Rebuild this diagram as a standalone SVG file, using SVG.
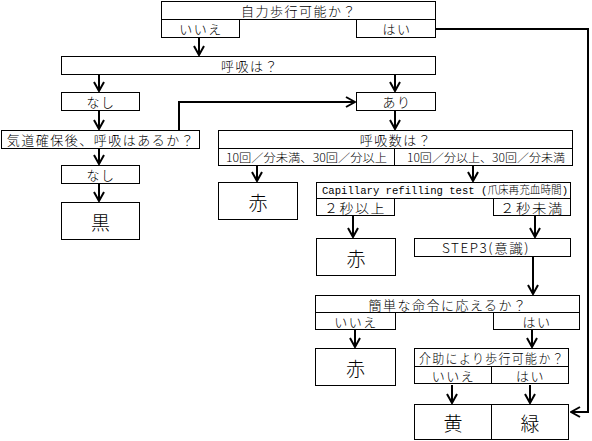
<svg xmlns="http://www.w3.org/2000/svg" width="592" height="441" viewBox="0 0 592 441">
<style>
.b{fill:#fff;stroke:#000;stroke-width:1}
.t{font-family:"Noto Sans CJK JP","Noto Sans CJK SC",sans-serif;font-size:13px;font-weight:300;letter-spacing:1.5px;text-anchor:middle;dominant-baseline:central;fill:#000}
.s{font-size:11.5px;letter-spacing:0}
.m{font-family:"Liberation Mono","Noto Sans CJK JP",monospace;font-size:11px;font-weight:300;dominant-baseline:central;fill:#000}
.L{font-size:19px;letter-spacing:0}
.c{fill:none;stroke:#000;stroke-width:2}
</style>
<defs>
<marker id="ah" markerUnits="userSpaceOnUse" viewBox="-11 -7 12 14" markerWidth="12" markerHeight="14" refX="0" refY="0" orient="auto">
<path d="M-9,-5 L0,0 L-9,5" fill="none" stroke="#000" stroke-width="2"/>
</marker>
</defs>
<rect width="592" height="441" fill="#fff"/>
<g id="connectors">
<path class="c" d="M199 38V55" marker-end="url(#ah)"/>
<path class="c" d="M99 75V91" marker-end="url(#ah)"/>
<path class="c" d="M395 75V91" marker-end="url(#ah)"/>
<path class="c" d="M99 111V129" marker-end="url(#ah)"/>
<path class="c" d="M179 130V102H355" marker-end="url(#ah)"/>
<path class="c" d="M395 111V129" marker-end="url(#ah)"/>
<path class="c" d="M99 149V164" marker-end="url(#ah)"/>
<path class="c" d="M99 184V201" marker-end="url(#ah)"/>
<path class="c" d="M257 166V181" marker-end="url(#ah)"/>
<path class="c" d="M473 166V181" marker-end="url(#ah)"/>
<path class="c" d="M353 216V237" marker-end="url(#ah)"/>
<path class="c" d="M535 216V237" marker-end="url(#ah)"/>
<path class="c" d="M533 257V294" marker-end="url(#ah)"/>
<path class="c" d="M355 330V347" marker-end="url(#ah)"/>
<path class="c" d="M532 330V347" marker-end="url(#ah)"/>
<path class="c" d="M452 385V403" marker-end="url(#ah)"/>
<path class="c" d="M530 385V403" marker-end="url(#ah)"/>
<path class="c" d="M436 29H588V412H571" marker-end="url(#ah)"/>
</g>
<g id="q-walk">
<rect class="b" x="161.5" y="1.5" width="274" height="18"/>
<text class="t" x="299" y="10.5">自力歩行可能か？</text>
<rect class="b" x="161.5" y="19.5" width="78" height="18"/>
<text class="t" x="201" y="28.5">いいえ</text>
<rect class="b" x="356.5" y="19.5" width="79" height="18"/>
<text class="t" x="397" y="28.5">はい</text>
</g>
<g id="q-breath">
<rect class="b" x="61.5" y="56.5" width="374" height="18"/>
<text class="t" x="250" y="65.5">呼吸は？</text>
</g>
<g id="nashi1">
<rect class="b" x="61.5" y="92.5" width="78" height="18"/>
<text class="t" x="101" y="101.5">なし</text>
</g>
<g id="ari">
<rect class="b" x="356.5" y="92.5" width="79" height="18"/>
<text class="t" x="397" y="101.5">あり</text>
</g>
<g id="q-airway">
<rect class="b" x="1.5" y="130.5" width="198" height="18"/>
<text class="t" x="101" y="139.5">気道確保後、呼吸はあるか？</text>
</g>
<g id="nashi2">
<rect class="b" x="61.5" y="165.5" width="78" height="18"/>
<text class="t" x="101" y="174.5">なし</text>
</g>
<g id="black">
<rect class="b" x="61.5" y="202.5" width="78" height="37"/>
<text class="t L" x="100.5" y="221">黒</text>
</g>
<g id="q-rate">
<rect class="b" x="218.5" y="130.5" width="354" height="18"/>
<text class="t" x="396" y="139.5">呼吸数は？</text>
<rect class="b" x="218.5" y="148.5" width="176" height="17"/>
<text class="t s" x="306.5" y="157" textLength="161" lengthAdjust="spacingAndGlyphs">10回／分未満、30回／分以上</text>
<rect class="b" x="394.5" y="148.5" width="178" height="17"/>
<text class="t s" x="486" y="157" textLength="158" lengthAdjust="spacingAndGlyphs">10回／分以上、30回／分未満</text>
</g>
<g id="red1">
<rect class="b" x="218.5" y="182.5" width="79" height="37"/>
<text class="t L" x="258" y="201">赤</text>
</g>
<g id="q-crt">
<rect class="b" x="316.5" y="182.5" width="254" height="16"/>
<text class="m" x="322" y="190.5" textLength="246" lengthAdjust="spacingAndGlyphs">Capillary refilling test (爪床再充血時間)</text>
<rect class="b" x="316.5" y="198.5" width="78" height="17"/>
<text class="t" x="355" y="207" textLength="62" lengthAdjust="spacingAndGlyphs">２秒以上</text>
<rect class="b" x="493.5" y="198.5" width="77" height="17"/>
<text class="t" x="532" y="207" textLength="64" lengthAdjust="spacingAndGlyphs">２秒未満</text>
</g>
<g id="red2">
<rect class="b" x="316.5" y="238.5" width="79" height="37"/>
<text class="t L" x="356" y="257">赤</text>
</g>
<g id="step3">
<rect class="b" x="414.5" y="238.5" width="156" height="18"/>
<text class="t" x="486" y="247.5" textLength="88" lengthAdjust="spacingAndGlyphs">STEP3(意識)</text>
</g>
<g id="q-command">
<rect class="b" x="315.5" y="295.5" width="264" height="17"/>
<text class="t" x="448" y="304">簡単な命令に応えるか？</text>
<rect class="b" x="315.5" y="312.5" width="80" height="17"/>
<text class="t" x="356" y="321">いいえ</text>
<rect class="b" x="493.5" y="312.5" width="86" height="17"/>
<text class="t" x="537" y="321">はい</text>
</g>
<g id="red3">
<rect class="b" x="315.5" y="348.5" width="80" height="37"/>
<text class="t L" x="355.5" y="367">赤</text>
</g>
<g id="q-assist">
<rect class="b" x="414.5" y="348.5" width="154" height="18"/>
<text class="t" x="492" y="357.5" textLength="146" lengthAdjust="spacingAndGlyphs">介助により歩行可能か？</text>
<rect class="b" x="414.5" y="366.5" width="77" height="17"/>
<text class="t" x="453.5" y="375">いいえ</text>
<rect class="b" x="491.5" y="366.5" width="77" height="17"/>
<text class="t" x="530.5" y="375">はい</text>
</g>
<g id="yellow">
<rect class="b" x="414.5" y="404.5" width="77" height="35"/>
<text class="t L" x="453" y="422">黄</text>
</g>
<g id="green">
<rect class="b" x="491.5" y="404.5" width="77" height="35"/>
<text class="t L" x="530" y="422">緑</text>
</g>
</svg>
